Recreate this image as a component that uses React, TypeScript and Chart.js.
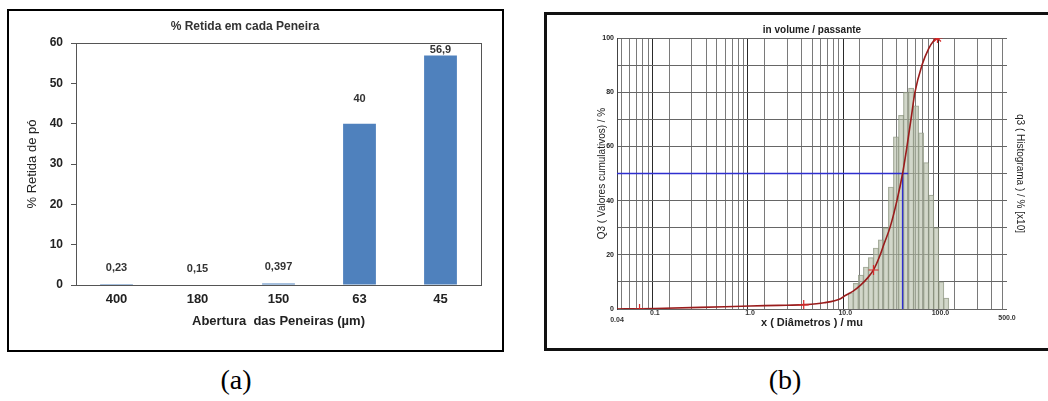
import React, { useEffect, useRef } from 'react';
import { Chart, registerables } from 'chart.js';

Chart.register(...registerables);

const SANS = '"Liberation Sans", Arial, sans-serif';

// ---------- Panel (a) data ----------
const sieveLabels = ['400', '180', '150', '63', '45'];
const retainedPct = [0.23, 0.15, 0.397, 40, 56.9];
const retainedAxisMax = 60;
const retainedStep = 10;

// ---------- Panel (b) data ----------
const diameterTickValues = [0.04, 0.1, 1, 10, 100, 500];
const diameterTickLabels = ['0.04', '0.1', '1.0', '10.0', '100.0', '500.0'];
const diameterGridValues = [
  0.04, 0.05, 0.06, 0.07, 0.08, 0.09,
  0.1, 0.2, 0.3, 0.4, 0.5, 0.6, 0.7, 0.8, 0.9,
  1, 2, 3, 4, 5, 6, 7, 8, 9,
  10, 20, 30, 40, 50, 60, 70, 80, 90,
  100, 200, 300, 400, 500,
];
const decadeValues = [0.1, 1, 10, 100];

const cumulativeX = [0.04, 0.07, 0.1, 0.3, 1, 2, 3.7, 6, 8.9, 10, 12, 14.5, 17, 19.8, 23.3, 25.3, 29.7, 34.9, 40, 44.5, 49, 54, 64, 75, 85, 93];
const cumulativeY = [0, 0.1, 0.2, 0.6, 1.1, 1.35, 1.6, 2.3, 3.8, 5, 6.5, 8.8, 11.3, 14.4, 20, 23.6, 30.4, 40, 50, 60, 70, 80, 90, 96, 99, 100];

const markerX = [0.069, 3.66, 19.8, 93];
const markerY = [0, 1.5, 14.4, 100];

const histCenters = [11.4, 12.9, 14.6, 16.5, 18.6, 21.0, 23.7, 26.8, 30.2, 34.1, 38.6, 43.5, 49.2, 55.5, 62.7, 70.8, 80.0, 90.3, 102, 115];
const histHeights = [6, 9.5, 12.5, 15.5, 19, 22.5, 25.5, 30, 45, 63.5, 71.5, 80, 81.5, 75, 65, 54, 42, 30, 10, 4];

const d50Size = 40;
const d50Pct = 50;
const d50LineEnd = 46;

// ---------- Panel (a) chart ----------
function RetainedChart() {
  const ref = useRef<HTMLCanvasElement | null>(null);
  useEffect(() => {
    if (!ref.current) return;
    const labelLift = [16, 15, 16, 25, 6];
    const frame = {
      id: 'frameA',
      beforeDatasetsDraw(chart: any) {
        const { ctx, chartArea: a } = chart;
        ctx.save();
        ctx.strokeStyle = '#555';
        ctx.lineWidth = 1;
        ctx.strokeRect(Math.round(a.left) + 0.5, Math.round(a.top) + 0.5, Math.round(a.right - a.left), Math.round(a.bottom - a.top));
        ctx.restore();
      },
    };
    const barLabels = {
      id: 'barLabelsA',
      afterDatasetsDraw(chart: any) {
        const { ctx } = chart;
        const meta = chart.getDatasetMeta(0);
        ctx.save();
        ctx.font = `bold 11px ${SANS}`;
        ctx.fillStyle = '#333';
        ctx.textAlign = 'center';
        ctx.textBaseline = 'middle';
        meta.data.forEach((bar: any, i: number) => {
          ctx.fillText(String(retainedPct[i]).replace('.', ','), bar.x, bar.y - labelLift[i]);
        });
        ctx.restore();
      },
    };
    const chart = new Chart(ref.current, {
      type: 'bar',
      data: {
        labels: sieveLabels,
        datasets: [
          {
            data: retainedPct,
            backgroundColor: '#4F81BD',
            categoryPercentage: 1,
            barPercentage: 0.405,
          },
        ],
      },
      options: {
        animation: false,
        responsive: false,
        layout: { padding: { left: 0, right: 21, top: 0, bottom: 0 } },
        plugins: {
          legend: { display: false },
          tooltip: { enabled: false },
          title: {
            display: true,
            text: '% Retida em cada Peneira',
            color: '#333',
            font: { family: SANS, size: 12, weight: 'bold' },
            padding: { top: 8, bottom: 9.6 },
          },
        },
        scales: {
          x: {
            grid: { display: false, drawTicks: false },
            border: { color: '#555' },
            ticks: { color: '#222', font: { family: SANS, size: 13, weight: 'bold' }, padding: 7 },
            title: {
              display: true,
              text: 'Abertura  das Peneiras (µm)',
              color: '#222',
              font: { family: SANS, size: 13, weight: 'bold' },
              padding: { top: 0, bottom: 20.2 },
            },
            afterFit: (s: any) => { s.height = 64; },
          },
          y: {
            min: 0,
            max: retainedAxisMax,
            ticks: { stepSize: retainedStep, color: '#222', font: { family: SANS, size: 12, weight: 'bold' }, padding: 8 },
            grid: { drawOnChartArea: false, drawTicks: true, tickLength: 5, color: '#555' },
            border: { color: '#555' },
            title: {
              display: true,
              text: '% Retida de pó',
              color: '#222',
              font: { family: SANS, size: 13 },
              padding: { top: 15.2, bottom: 0 },
            },
            afterFit: (s: any) => { s.width = 67; },
          },
        },
      },
      plugins: [frame, barLabels],
    } as any);
    return () => chart.destroy();
  }, []);
  return <canvas ref={ref} width={493} height={338} style={{ width: 493, height: 338, display: 'block' }} />;
}

// ---------- Panel (b) chart ----------
function DistributionChart() {
  const ref = useRef<HTMLCanvasElement | null>(null);
  useEffect(() => {
    if (!ref.current) return;
    const labelDrop = [11, 4, 4, 4, 4, 9];
    const xLabels = {
      id: 'xLabelsB',
      afterDraw(chart: any) {
        const { ctx, chartArea } = chart;
        const sx = chart.scales.x;
        ctx.save();
        ctx.font = `bold 7px ${SANS}`;
        ctx.fillStyle = '#333';
        ctx.textAlign = 'center';
        ctx.textBaseline = 'middle';
        diameterTickValues.forEach((v, i) => {
          ctx.fillText(diameterTickLabels[i], sx.getPixelForValue(v), chartArea.bottom + labelDrop[i]);
        });
        ctx.restore();
      },
    };
    const cumulative = cumulativeX.map((x, i) => ({ x, y: cumulativeY[i] }));
    const markers = markerX.map((x, i) => ({ x, y: markerY[i] }));
    const hist = histCenters.map((x, i) => ({ x, y: histHeights[i] }));
    const crosshair = [
      { x: diameterGridValues[0], y: d50Pct },
      { x: d50LineEnd, y: d50Pct },
      { x: d50Size, y: d50Pct },
      { x: d50Size, y: 0 },
    ];
    const chart = new Chart(ref.current, {
      type: 'line',
      data: {
        datasets: [
          {
            type: 'line',
            data: markers,
            showLine: false,
            pointStyle: (c: any) => (c.dataIndex === markers.length - 1 ? 'star' : 'cross'),
            pointRadius: 5,
            pointBorderColor: '#d42a2a',
            pointBorderWidth: 1.2,
            borderColor: '#d42a2a',
            yAxisID: 'y',
          },
          {
            type: 'line',
            data: cumulative,
            borderColor: '#9a1c1c',
            borderWidth: 1.6,
            pointRadius: 0,
            cubicInterpolationMode: 'monotone',
            yAxisID: 'y',
          },
          {
            type: 'line',
            data: crosshair,
            borderColor: '#2f2fd0',
            borderWidth: 1.4,
            pointRadius: 0,
            tension: 0,
            yAxisID: 'y',
          },
          {
            type: 'bar',
            data: hist,
            yAxisID: 'y2',
            backgroundColor: 'rgba(180,188,166,0.6)',
            borderColor: 'rgba(130,138,118,0.75)',
            borderWidth: 0.6,
            barThickness: 5.2,
          },
        ],
      },
      options: {
        animation: false,
        responsive: false,
        layout: { padding: { left: 40, right: 11, top: 0, bottom: 0 } },
        plugins: {
          legend: { display: false },
          tooltip: { enabled: false },
          title: {
            display: true,
            text: 'in volume / passante',
            color: '#222',
            font: { family: SANS, size: 10 },
            padding: { top: 9, bottom: 2 },
          },
        },
        scales: {
          x: {
            type: 'logarithmic',
            min: 0.04,
            max: 500,
            offset: false,
            afterBuildTicks: (s: any) => { s.ticks = diameterGridValues.map((v) => ({ value: v })); },
            ticks: { display: false, autoSkip: false },
            grid: {
              color: (c: any) => (c.tick && decadeValues.includes(c.tick.value) ? '#2a2a2a' : '#7a7a7a'),
              lineWidth: 1,
              drawTicks: false,
            },
            border: { display: false },
            title: {
              display: true,
              text: 'x ( Diâmetros ) / mu',
              color: '#222',
              font: { family: SANS, size: 11, weight: 'bold' },
              padding: { top: 0, bottom: 18.4 },
            },
            afterFit: (s: any) => { s.height = 39; },
          },
          y: {
            min: 0,
            max: 100,
            ticks: {
              stepSize: 10,
              callback: (v: any) => (Number(v) % 20 === 0 ? String(v) : ''),
              color: '#222',
              font: { family: SANS, size: 7, weight: 'bold' },
              padding: 3,
            },
            grid: { color: '#666', drawTicks: false },
            border: { color: '#444' },
            title: {
              display: true,
              text: 'Q3 ( Valores cumulativos) / %',
              color: '#222',
              font: { family: SANS, size: 10 },
              padding: { top: 9, bottom: 0 },
            },
            afterFit: (s: any) => { s.width = 30; },
          },
          y2: {
            position: 'right',
            min: 0,
            max: 100,
            grid: { display: false, drawTicks: false },
            ticks: { display: false },
            border: { display: false },
            title: {
              display: true,
              text: 'q3 ( Histograma ) / % [x10]',
              color: '#222',
              font: { family: SANS, size: 10 },
              padding: { top: 11, bottom: 0 },
            },
            afterFit: (s: any) => { s.width = 30; },
          },
        },
      },
      plugins: [xLabels],
    } as any);
    return () => chart.destroy();
  }, []);
  return <canvas ref={ref} width={501} height={333} style={{ width: 501, height: 333, display: 'block' }} />;
}

export default function App() {
  const caption: React.CSSProperties = {
    position: 'absolute',
    width: 100,
    textAlign: 'center',
    fontFamily: '"Liberation Serif", "Times New Roman", serif',
    fontSize: 28,
    lineHeight: '28px',
    color: '#000',
  };
  return (
    <div style={{ position: 'fixed', left: 0, top: 0, width: 1048, height: 401, overflow: 'hidden', background: '#fff' }}>
      <div style={{ position: 'absolute', left: 7, top: 9, width: 497, height: 343, border: '2px solid #000', boxSizing: 'border-box' }}>
        <RetainedChart />
      </div>
      <div style={{ position: 'absolute', left: 544, top: 12, width: 520, height: 339, border: '3px solid #111', boxSizing: 'border-box' }}>
        <DistributionChart />
      </div>
      <div style={{ ...caption, left: 186, top: 366 }}>(a)</div>
      <div style={{ ...caption, left: 735, top: 366 }}>(b)</div>
    </div>
  );
}
